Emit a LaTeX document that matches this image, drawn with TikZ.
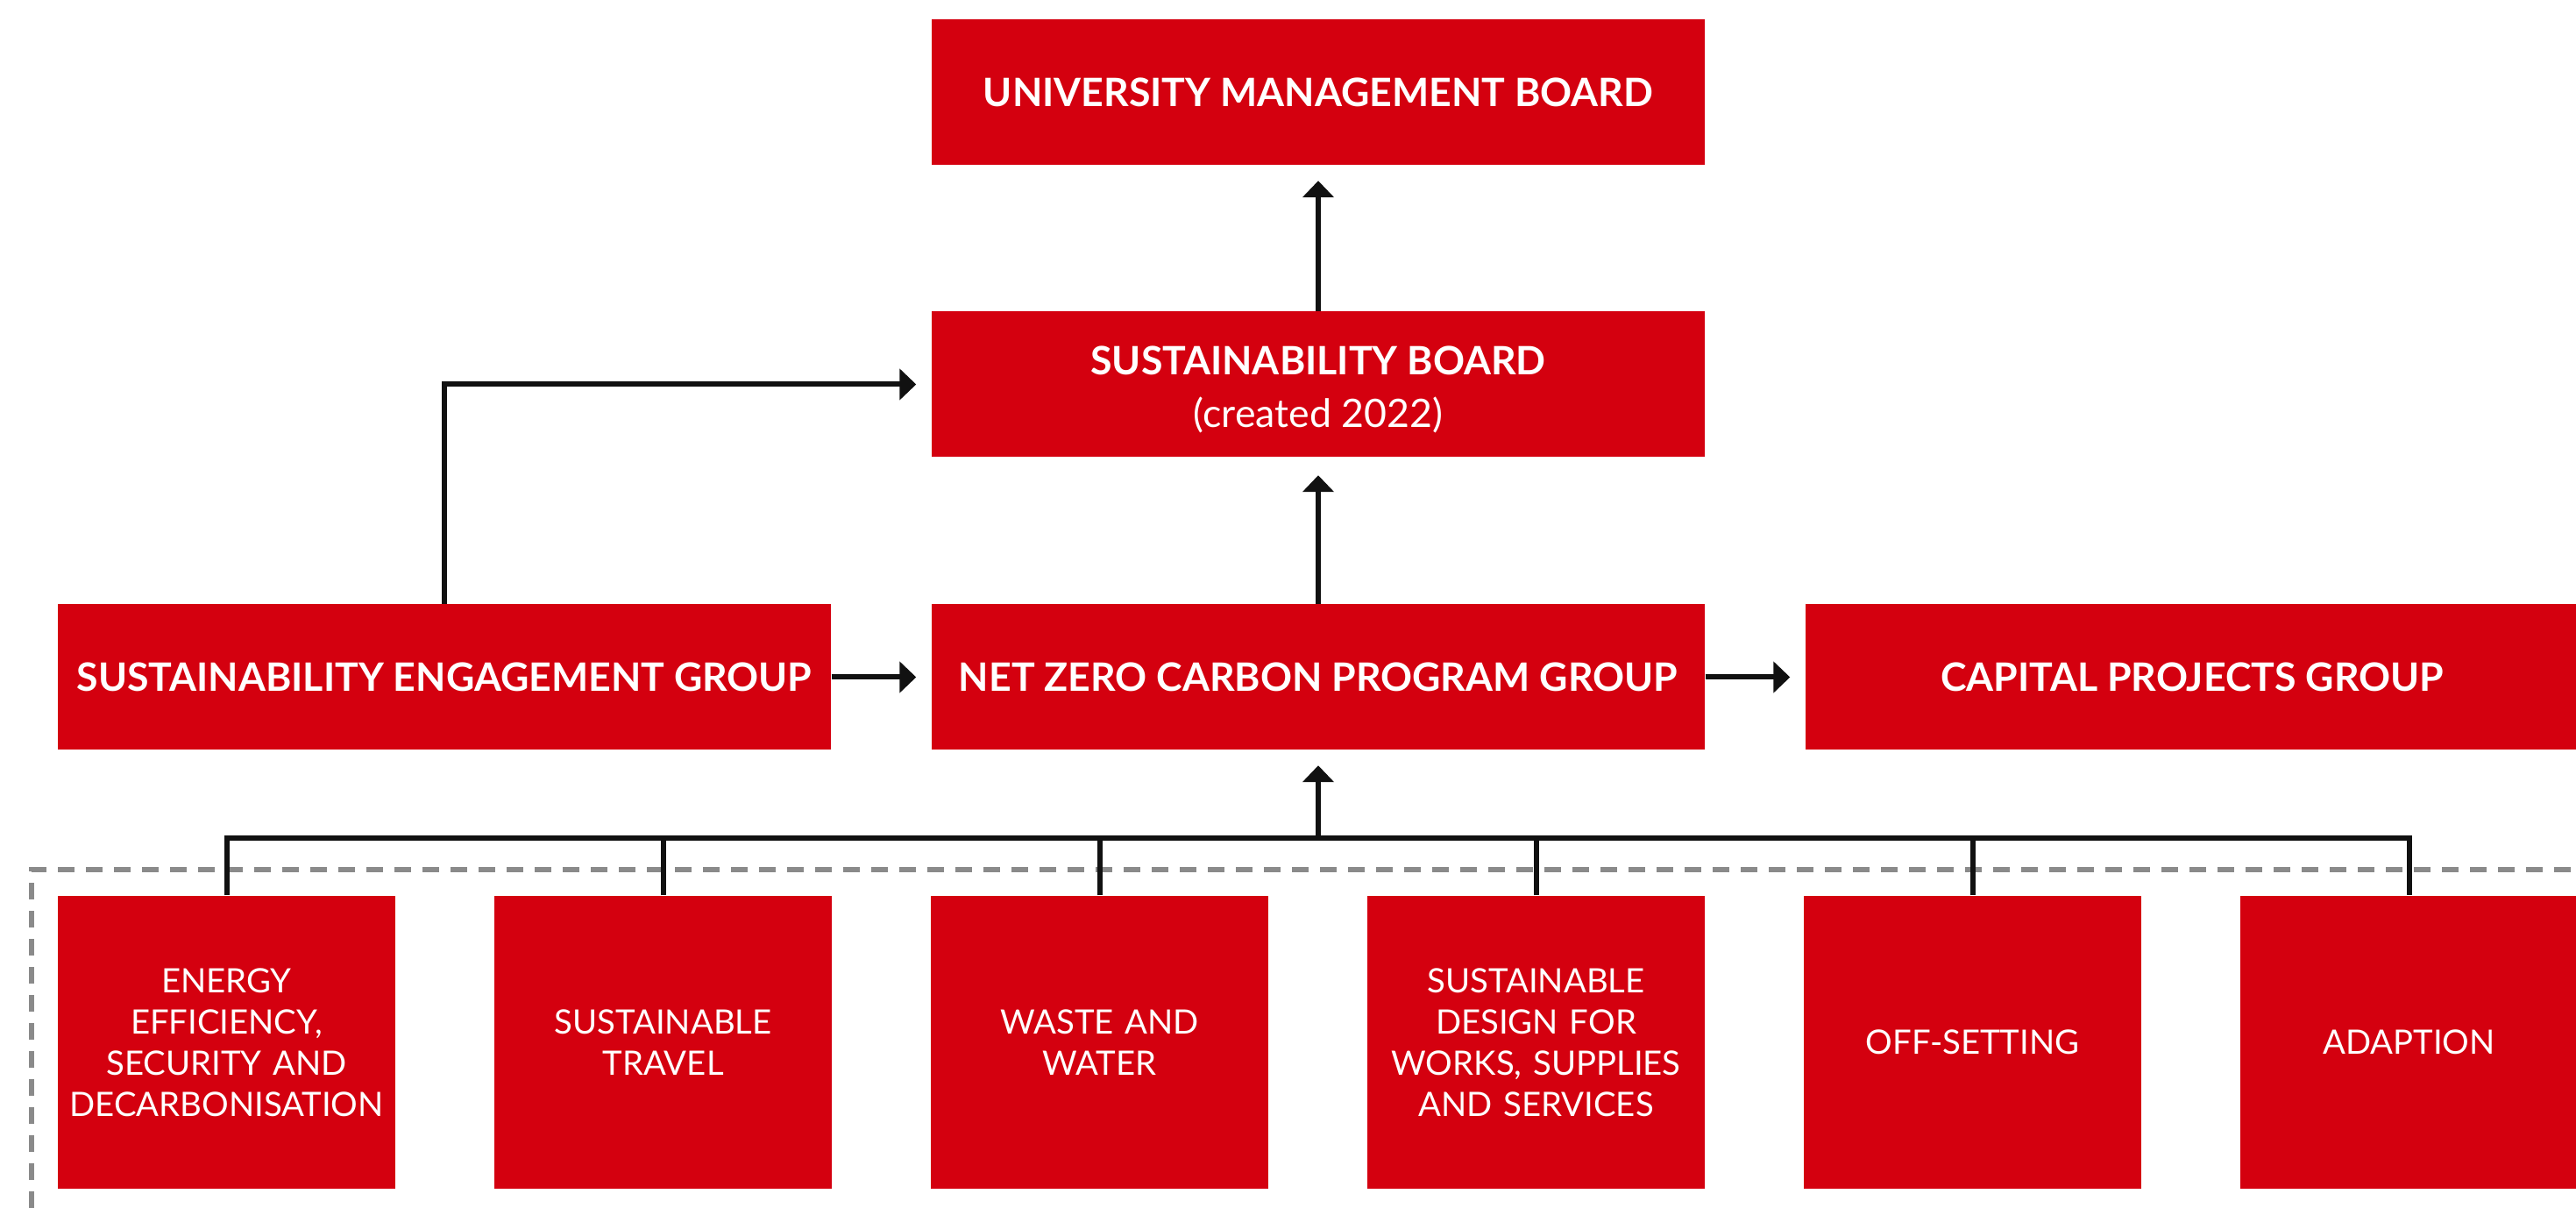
\documentclass[tikz,border=0pt]{standalone}
\usepackage{fontspec}
\setmainfont{Lato}
\usepackage{xcolor}
\usetikzlibrary{arrows.meta}

\definecolor{boxred}{HTML}{D4000F}
\definecolor{linegray}{HTML}{8A8A8A}
\definecolor{lineblack}{HTML}{111111}

\tikzset{
  groupbox/.style={fill=boxred, text=white, inner sep=0pt, minimum width=8.82cm,
    minimum height=1.66cm, align=center, font=\fontsize{12.7}{17}\selectfont\bfseries},
  workbox/.style={fill=boxred, text=white, inner sep=0pt, minimum width=3.85cm,
    minimum height=3.34cm, text width=3.8cm, align=center,
    font=\fontsize{10.9}{13.4}\selectfont},
  link/.style={draw=lineblack, line width=0.06cm, line join=miter},
  arrowlink/.style={link, -{Triangle[length=0.19cm,width=0.35cm]}}
}

\begin{document}
\begin{tikzpicture}
    \useasboundingbox (0,0) rectangle (29.39,-13.78);

    % Draw the board boxes
    \node[groupbox] (umb) at (15.04,-1.055) {UNIVERSITY MANAGEMENT BOARD};
    \node[groupbox] (sb) at (15.04,-4.385) {\rule{0pt}{12.6pt}SUSTAINABILITY BOARD\\[0pt]{\mdseries (created 2022)}};

    % Draw the group boxes
    \node[groupbox] (seg) at (5.07,-7.725) {SUSTAINABILITY ENGAGEMENT GROUP};
    \node[groupbox] (nzc) at (15.04,-7.725) {NET ZERO CARBON PROGRAM GROUP};
    \node[groupbox] (cpg) at (25.01,-7.725) {CAPITAL PROJECTS GROUP};

    % Draw the working group boxes
    \node[workbox] (wg1) at (2.585,-11.89) {ENERGY\\EFFICIENCY,\\SECURITY AND\\DECARBONISATION};
    \node[workbox] (wg2) at (7.565,-11.89) {SUSTAINABLE\\TRAVEL};
    \node[workbox] (wg3) at (12.545,-11.89) {WASTE AND\\WATER};
    \node[workbox] (wg4) at (17.525,-11.89) {SUSTAINABLE\\DESIGN FOR\\WORKS, SUPPLIES\\AND SERVICES};
    \node[workbox] (wg5) at (22.505,-11.89) {OFF-SETTING};
    \node[workbox] (wg6) at (27.485,-11.89) {ADAPTION};

    % Draw the dashed frame
    \coordinate (frame) at (0.36,-9.92);
    \draw[linegray, line width=0.06cm, dash pattern=on 0.19cm off 0.13cm]
        (frame |- 0,-13.78) -- (frame) -- (29.39,-9.92);

    % Draw the bus under the program group
    \coordinate (bus) at (15.04,-9.56);
    \draw[link] (wg1.north) -- (wg1.north |- bus) -- (wg6.north |- bus) -- (wg6.north);
    \foreach \i in {2,3,4,5}
        \draw[link] (wg\i.north) -- (wg\i.north |- bus);
    \draw[arrowlink, shorten >=0.17cm] (bus) -- (nzc.south);

    % Draw the arrows between the groups
    \draw[arrowlink, shorten >=0.17cm] (seg.east) -- (nzc.west);
    \draw[arrowlink, shorten >=0.17cm] (nzc.east) -- (cpg.west);
    \draw[arrowlink, shorten >=0.2cm] (nzc.north) -- (sb.south);
    \draw[arrowlink, shorten >=0.17cm] (sb.north) -- (umb.south);
    \draw[arrowlink, shorten >=0.17cm] (seg.north) |- (sb.west);
\end{tikzpicture}
\end{document}
